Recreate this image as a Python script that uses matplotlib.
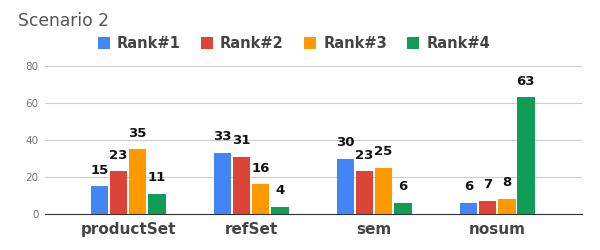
import numpy as np
from matplotlib import pyplot as plt

categories = ["productSet", "refSet", "sem", "nosum"]
series_names = ["Rank#1", "Rank#2", "Rank#3", "Rank#4"]
rank1 = [15, 33, 30, 6]
rank2 = [23, 31, 23, 7]
rank3 = [35, 16, 25, 8]
rank4 = [11, 4, 6, 63]
colors = ["#4285F4", "#DB4437", "#FF9900", "#0F9D58"]

values = [rank1, rank2, rank3, rank4]

fig = plt.figure(figsize=(6, 2.5), dpi=100)
ax = fig.add_axes([0.075, 0.144, 0.895, 0.592])

x = np.arange(len(categories))
width = 0.155
for i, (vals, name, col) in enumerate(zip(values, series_names, colors)):
    pos = x + (i - 1.5) * width
    bars = ax.bar(pos, vals, width * 0.93, color=col, label=name, zorder=3)
    for b, v in zip(bars, vals):
        ax.annotate(str(v), (b.get_x() + b.get_width() / 2, v),
                    xytext=(0, 7), textcoords="offset points",
                    ha="center", va="bottom", fontsize=9.5, fontweight="bold",
                    color="#111111")

ax.set_xlim(-0.675, 3.69)
ax.set_ylim(0, 80)
ax.set_yticks([0, 20, 40, 60, 80])
ax.set_xticks(x)
ax.set_xticklabels(categories, fontsize=11, fontweight="bold", color="#444444")
ax.tick_params(axis="x", length=0, pad=6)
ax.tick_params(axis="y", length=0, labelsize=7.5, labelcolor="#777777", pad=4.5)
ax.grid(axis="y", color="#cccccc", linewidth=0.8, zorder=0)
for s in ["top", "right", "left"]:
    ax.spines[s].set_visible(False)
ax.spines["bottom"].set_color("#333333")
ax.spines["bottom"].set_zorder(4)

fig.text(0.03, 0.914, "Scenario 2", fontsize=12.3, color="#555555", va="center")
leg = fig.legend(loc="center", bbox_to_anchor=(0.49, 0.826), ncol=4, frameon=False,
                 handlelength=0.8, handleheight=0.8, handletextpad=0.5,
                 columnspacing=1.4, prop={"weight": "bold", "size": 10.5})
for t in leg.get_texts():
    t.set_color("#444444")

fig.savefig("out.png", dpi=100)
